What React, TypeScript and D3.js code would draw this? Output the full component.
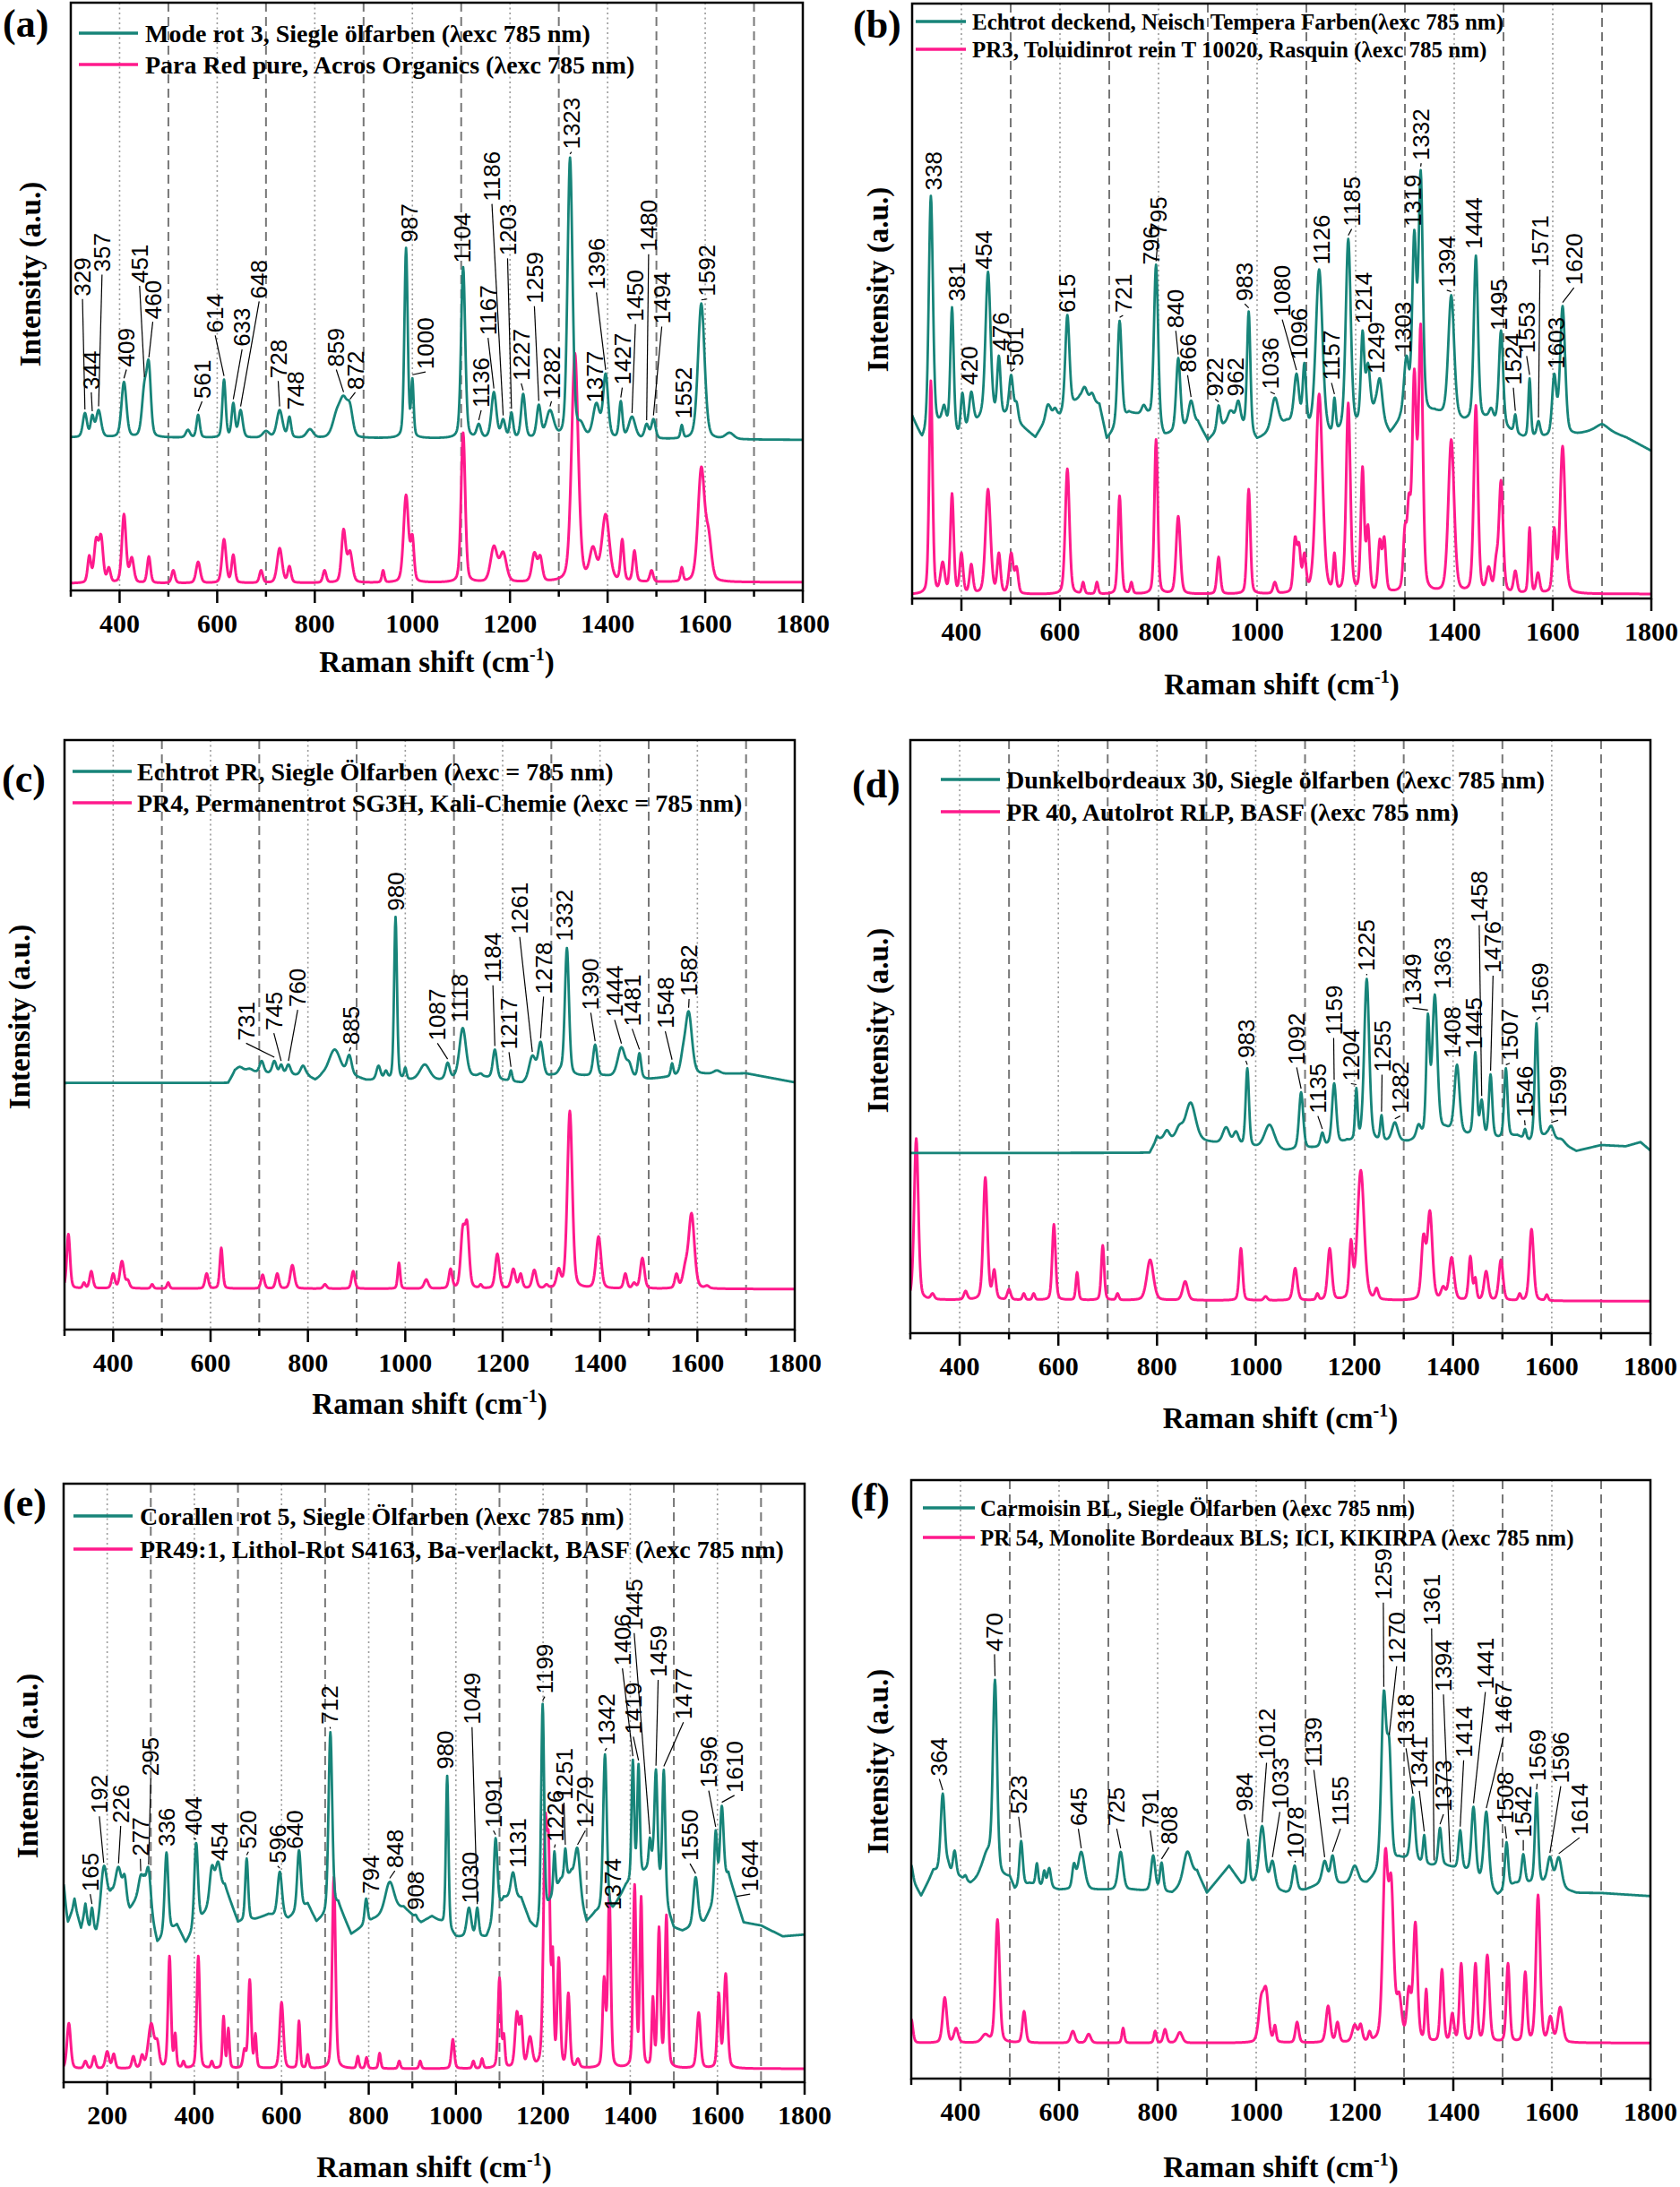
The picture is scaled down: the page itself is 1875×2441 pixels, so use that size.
import React, { useMemo } from "react";
import * as d3 from "d3";

type Pt = [number, number];
type Pk = [number, number, number]; // centre (cm-1), top intensity, half width
type Lb = [number, number, number]; // peak (cm-1), label x (cm-1), label bottom intensity

// ---------------- axis ticks ----------------
const X_MAJOR = [400, 600, 800, 1000, 1200, 1400, 1600, 1800];
const X_MINOR = [300, 500, 700, 900, 1100, 1300, 1500, 1700];
const X_MAJOR_E = [200, 400, 600, 800, 1000, 1200, 1400, 1600, 1800];
const X_MINOR_E = [100, 300, 500, 700, 900, 1100, 1300, 1500, 1700];

// ---------------- panel (a) ----------------
const A_LEGEND = ["Mode rot 3, Siegle ölfarben (λexc 785 nm)", "Para Red pure, Acros Organics (λexc 785 nm)"];
const A_TEAL_BASE: Pt[] = [[300, 27.2], [1800, 26.8]];
const A_TEAL_PEAKS: Pk[] = [
  [329, 31.3, 5], [344, 31.0, 4], [357, 31.8, 6], [409, 36.5, 6], [451, 36.7, 6], [460, 40.0, 5],
  [540, 28.5, 5], [561, 31.0, 4], [614, 36.9, 4], [633, 33.0, 4], [648, 31.8, 5], [700, 28.3, 8],
  [728, 31.8, 7], [748, 30.7, 4], [790, 28.6, 8], [845, 32, 10], [859, 34.2, 9], [872, 33.0, 7],
  [987, 58.9, 4], [1000, 37.1, 3], [1104, 55.7, 5], [1136, 29.5, 5], [1167, 34.8, 6], [1186, 30.3, 5],
  [1203, 31.4, 4], [1227, 34.5, 5], [1259, 32.7, 5], [1282, 31.8, 9], [1323, 74.0, 6], [1345, 30, 8],
  [1377, 33.0, 8], [1396, 37.9, 6], [1427, 33.3, 4], [1450, 30.7, 8], [1480, 29.5, 5], [1494, 30.3, 5],
  [1552, 29.3, 3], [1592, 49.6, 8], [1650, 28, 10],
];
const A_PINK_BASE: Pt[] = [[300, 2.8], [1800, 3.0]];
const A_PINK_PEAKS: Pk[] = [
  [338, 7.5, 4], [352, 10.5, 5], [362, 11, 5], [378, 5.5, 4], [409, 14.4, 5], [425, 7.2, 5], [460, 7.3, 4],
  [510, 5, 4], [561, 6.4, 5], [614, 10.2, 5], [633, 7.6, 4], [690, 5, 4], [728, 8.7, 6], [748, 5.7, 4],
  [820, 5, 4], [859, 11.9, 5], [872, 8.3, 6], [940, 5, 3], [987, 17.6, 6], [1000, 11, 4], [1104, 28, 5],
  [1167, 9.1, 8], [1186, 8.1, 8], [1250, 8, 6], [1262, 7.5, 5], [1333, 41.3, 8], [1370, 9, 8],
  [1396, 14.4, 9], [1430, 10.2, 4], [1455, 8.3, 4], [1490, 5, 4], [1552, 5.5, 3], [1592, 22.3, 8], [1607, 12, 7],
];
const A_LABELS: Lb[] = [
  [329, 324, 50.8], [344, 342, 35.2], [357, 364, 54.9], [409, 414, 39.0], [451, 441, 53.0], [460, 468, 47.0],
  [561, 569, 33.7], [614, 596, 44.7], [633, 651, 42.4], [648, 686, 50.4], [728, 725, 37.1], [748, 760, 31.8],
  [859, 844, 39.0], [872, 883, 35.2], [987, 994, 59.8], [1000, 1027, 38.6], [1104, 1103, 56.4], [1136, 1141, 32.2],
  [1167, 1155, 44.3], [1186, 1163, 66.7], [1203, 1195, 57.6], [1227, 1223, 36.7], [1259, 1250, 49.6],
  [1282, 1285, 33.7], [1323, 1326, 75.4], [1377, 1373, 33.0], [1396, 1377, 51.9], [1427, 1430, 36.0],
  [1450, 1457, 46.6], [1480, 1484, 58.3], [1494, 1511, 46.2], [1552, 1555, 30.3], [1592, 1604, 50.8],
];

// ---------------- panel (b) ----------------
const B_LEGEND = ["Echtrot deckend, Neisch Tempera Farben(λexc 785 nm)", "PR3, Toluidinrot rein T 10020, Rasquin (λexc 785 nm)"];
const B_TEAL_BASE: Pt[] = [
  [300, 31], [320, 27], [360, 30], [395, 27.5], [440, 30.5], [490, 31], [520, 29.5], [550, 27.5], [580, 31.5],
  [600, 31], [640, 34], [680, 33], [695, 27.2], [740, 31.5], [780, 31], [812, 27.5], [880, 30], [900, 27],
  [950, 31], [1000, 27], [1060, 30], [1150, 27.5], [1200, 29], [1240, 32], [1270, 28], [1290, 30], [1360, 31.5],
  [1420, 30], [1465, 30.5], [1540, 27.5], [1590, 27.5], [1650, 28], [1700, 29], [1750, 27.5], [1800, 25.3],
];
const B_TEAL_PEAKS: Pk[] = [
  [338, 67.9, 5], [365, 33, 4], [381, 49.3, 4], [402, 35, 4], [420, 35.2, 5], [454, 55.2, 6], [476, 41.2, 4],
  [501, 38, 5], [512, 33.5, 4], [575, 33, 5], [590, 32.5, 4], [615, 48, 5], [650, 36, 6], [665, 35, 5],
  [721, 47, 5], [770, 33, 5], [795, 56.4, 5], [840, 40.8, 5], [866, 33.7, 6], [922, 32.9, 4], [945, 32, 5],
  [962, 33.7, 5], [983, 48.6, 4], [1036, 34.2, 8], [1080, 38.2, 6], [1096, 40, 4], [1126, 55.6, 8],
  [1157, 34.2, 3], [1185, 60.7, 6], [1214, 45.4, 4], [1225, 40, 5], [1249, 37.4, 6], [1303, 41.2, 6],
  [1319, 62.2, 5], [1332, 72.2, 5], [1394, 51.3, 7], [1444, 57.9, 5], [1475, 32.5, 5], [1495, 45.4, 5],
  [1524, 31.4, 3], [1553, 37.4, 3], [1571, 30.3, 4], [1603, 38.2, 5], [1620, 49.5, 6], [1700, 29.8, 15],
];
const B_PINK_BASE: Pt[] = [[300, 1.3], [1800, 1.4]];
const B_PINK_PEAKS: Pk[] = [
  [338, 37, 4], [362, 6.8, 5], [381, 18.2, 4], [400, 8.3, 4], [420, 6.4, 4], [454, 18.9, 6], [476, 8.3, 4],
  [501, 8.3, 5], [512, 6, 4], [615, 22.3, 5], [647, 3.4, 3], [675, 3.4, 3], [721, 17.8, 4], [745, 3.4, 3],
  [795, 27.2, 4], [840, 14.4, 5], [922, 7.6, 4], [983, 18.9, 4], [1036, 3.4, 4], [1077, 11, 4], [1085, 10, 4],
  [1096, 8.3, 4], [1126, 34.8, 8], [1157, 8.3, 3], [1185, 33.3, 5], [1214, 22.7, 4], [1225, 13, 4],
  [1249, 10.6, 4], [1258, 11, 4], [1300, 13, 4], [1308, 18.2, 4], [1319, 39, 5], [1332, 46.5, 5],
  [1394, 27.2, 7], [1444, 32.9, 5], [1470, 6, 5], [1485, 8, 4], [1495, 20.4, 5], [1524, 5.3, 4],
  [1553, 12.5, 3], [1570, 5, 4], [1603, 12.5, 4], [1620, 26.1, 6],
];
const B_LABELS: Lb[] = [
  [338, 343, 68.8], [381, 390, 50.3], [420, 416, 36.3], [454, 446, 55.6], [476, 479, 42.0], [501, 508, 39.5],
  [615, 615, 48.4], [721, 728, 48.4], [796, 786, 56.4], [795, 799, 61.3], [840, 835, 45.8], [866, 859, 38.4],
  [922, 915, 34.4], [962, 956, 34.4], [983, 975, 50.3], [1036, 1027, 35.6], [1080, 1051, 47.7], [1096, 1086, 40.5],
  [1126, 1130, 56.4], [1157, 1151, 37.1], [1185, 1192, 62.8], [1214, 1216, 46.5], [1249, 1241, 38.2],
  [1303, 1296, 41.6], [1319, 1317, 62.8], [1332, 1333, 73.8], [1394, 1385, 52.6], [1444, 1439, 59.0],
  [1495, 1491, 45.4], [1524, 1520, 36.3], [1553, 1547, 41.6], [1571, 1574, 56.0], [1603, 1607, 39.0], [1620, 1643, 53.0],
];

// ---------------- panel (c) ----------------
const C_LEGEND = ["Echtrot PR, Siegle Ölfarben (λexc = 785 nm)", "PR4, Permanentrot SG3H, Kali-Chemie (λexc = 785 nm)"];
const C_TEAL_BASE: Pt[] = [
  [300, 41.9], [636, 41.9], [650, 43.8], [700, 43.6], [800, 43], [815, 42.3], [830, 43], [900, 42.8], [920, 42.3],
  [1070, 42.3], [1150, 43], [1240, 41.8], [1300, 43], [1410, 43], [1500, 42.5], [1600, 43.3], [1700, 43.5], [1800, 42],
];
const C_TEAL_PEAKS: Pk[] = [
  [660, 44.6, 8], [680, 44.3, 8], [705, 45.6, 5], [731, 45.6, 5], [745, 45, 4], [760, 45, 5], [790, 44.8, 6],
  [855, 47.5, 14], [885, 46.6, 6], [945, 44.8, 5], [960, 44, 4], [980, 69.7, 3.5], [1000, 44.5, 3], [1040, 45, 12],
  [1087, 45.3, 5], [1118, 51.1, 8], [1155, 43.5, 4], [1184, 47.5, 5], [1217, 44, 3], [1261, 46.5, 8], [1278, 48.8, 6],
  [1318, 44.5, 5], [1332, 64.5, 5], [1390, 48.3, 5], [1444, 47.9, 9], [1460, 45.5, 6], [1481, 46.9, 4],
  [1548, 45.2, 3], [1570, 48, 6], [1582, 53.9, 8], [1640, 44, 8],
];
const C_PINK_BASE: Pt[] = [[300, 7.5], [1800, 7.4]];
const C_PINK_PEAKS: Pk[] = [
  [308, 16.6, 4], [340, 8.5, 3], [355, 10.4, 4], [400, 10, 4], [418, 12.1, 5], [430, 9, 4], [480, 8.2, 3],
  [513, 8.5, 3], [592, 10, 4], [622, 14.3, 3.5], [707, 9.8, 4], [737, 10, 4], [768, 11.4, 5], [835, 8.2, 4],
  [893, 10.4, 4], [987, 11.8, 3], [1043, 9, 5], [1093, 10.8, 4], [1118, 18, 5], [1127, 18.8, 5], [1155, 8.2, 3],
  [1189, 13.3, 5], [1222, 10.8, 5], [1237, 10, 4], [1265, 10.6, 5], [1290, 8.2, 4], [1315, 10.9, 5],
  [1338, 37.2, 6], [1397, 16.2, 6], [1452, 10, 4], [1470, 8.5, 4], [1487, 12.6, 5], [1557, 10, 4],
  [1575, 12, 6], [1588, 20.1, 7], [1620, 8, 5],
];
const C_LABELS: Lb[] = [
  [731, 673, 49.0], [745, 730, 50.7], [760, 779, 54.6], [885, 888, 48.3], [980, 981, 70.7], [1087, 1066, 49.0],
  [1118, 1112, 52.1], [1184, 1180, 58.7], [1217, 1213, 47.5], [1261, 1235, 66.8], [1278, 1284, 56.8],
  [1332, 1327, 65.6], [1390, 1381, 54.1], [1444, 1430, 52.9], [1481, 1466, 51.4], [1548, 1534, 51.0], [1582, 1583, 56.4],
];

// ---------------- panel (d) ----------------
const D_LEGEND = ["Dunkelbordeaux 30, Siegle ölfarben (λexc 785 nm)", "PR 40, Autolrot RLP, BASF (λexc 785 nm)"];
const D_TEAL_BASE: Pt[] = [
  [300, 31.2], [785, 31.2], [800, 33.5], [900, 33], [1000, 32], [1060, 31.5], [1120, 32], [1185, 33], [1240, 33],
  [1310, 33], [1385, 35], [1428, 34], [1492, 33.5], [1530, 34], [1555, 33], [1590, 34], [1650, 31.5], [1700, 32.5],
  [1750, 32.3], [1780, 33], [1800, 31.6],
];
const D_TEAL_PEAKS: Pk[] = [
  [800, 34, 3], [820, 35, 6], [845, 35.9, 8], [868, 39.6, 12], [940, 35.5, 8], [960, 34.8, 6], [983, 45.3, 4],
  [1028, 35.9, 12], [1092, 41.3, 5], [1135, 34.6, 4], [1159, 42.8, 5], [1185, 33.5, 3], [1204, 42, 3],
  [1225, 60.2, 6], [1255, 37.5, 3], [1282, 36.3, 7], [1330, 36, 5], [1349, 54.4, 4], [1363, 57.6, 6],
  [1408, 45.9, 6], [1445, 48, 4], [1458, 40.1, 4], [1476, 44.3, 4], [1507, 45.3, 4], [1546, 35.2, 3],
  [1569, 52.8, 4], [1599, 35.7, 6], [1620, 33.5, 8],
];
const D_PINK_BASE: Pt[] = [[300, 6.7], [1800, 6.5]];
const D_PINK_PEAKS: Pk[] = [
  [312, 33.6, 5], [345, 7.8, 4], [412, 8.2, 4], [452, 27.1, 5], [470, 11.8, 4], [500, 8.5, 4], [530, 7.8, 3],
  [550, 7.8, 3], [591, 19.3, 4], [638, 11.3, 3], [690, 15.8, 3.5], [720, 7.8, 3], [786, 13.4, 8], [857, 9.8, 6],
  [970, 15.3, 4], [1020, 7.3, 4], [1080, 12, 5], [1125, 7.8, 3], [1150, 15.3, 5], [1193, 16.8, 4],
  [1213, 28.3, 8], [1245, 8.7, 4], [1340, 17.7, 5], [1353, 21.6, 6], [1380, 9, 5], [1397, 13.8, 6],
  [1435, 14, 4], [1445, 10.5, 3], [1467, 11.5, 5], [1497, 13.4, 5], [1535, 7.8, 3], [1559, 18.5, 5], [1590, 7.6, 3],
];
const D_LABELS: Lb[] = [
  [983, 980, 47.0], [1092, 1083, 45.9], [1135, 1126, 37.8], [1159, 1158, 50.8], [1204, 1193, 43.2],
  [1225, 1225, 61.5], [1255, 1256, 44.7], [1282, 1293, 37.8], [1349, 1318, 55.8], [1363, 1378, 58.5],
  [1408, 1399, 47.0], [1445, 1442, 48.5], [1458, 1453, 69.6], [1476, 1481, 61.2], [1507, 1515, 46.6],
  [1546, 1545, 37.1], [1569, 1577, 54.3], [1599, 1613, 37.1],
];

// ---------------- panel (e) ----------------
const E_LEGEND = ["Corallen rot 5, Siegle Ölfarben (λexc 785 nm)", "PR49:1, Lithol-Rot S4163, Ba-verlackt, BASF (λexc 785 nm)"];
const E_TEAL_BASE: Pt[] = [
  [100, 31], [110, 27], [125, 30], [140, 26], [150, 29], [160, 25], [175, 25], [210, 31.5], [252, 29], [285, 33],
  [315, 23.5], [360, 26.5], [380, 23.5], [420, 28], [470, 33], [500, 27], [540, 27.5], [570, 28.3], [615, 27.5],
  [660, 30], [680, 27], [700, 28], [730, 30], [760, 25], [810, 27.5], [880, 29.5], [920, 27], [945, 28],
  [965, 27], [1000, 24.5], [1070, 24.5], [1110, 31], [1150, 31], [1170, 27], [1185, 25.5], [1240, 34],
  [1265, 35], [1300, 27], [1320, 28.5], [1360, 29], [1390, 33], [1430, 35], [1452, 37], [1490, 28], [1500, 26],
  [1520, 25.5], [1570, 27], [1625, 35], [1660, 27], [1700, 26.5], [1750, 24.7], [1800, 25],
];
const E_TEAL_PEAKS: Pk[] = [
  [100, 33.4, 4], [125, 31, 3], [150, 30.2, 3], [165, 29.5, 4], [192, 36.4, 8], [226, 36.3, 8], [240, 35, 5],
  [277, 35, 6], [295, 36.1, 6], [336, 38.7, 5], [404, 40.3, 5], [440, 36.5, 6], [454, 37.2, 7], [520, 37.7, 4],
  [596, 35.5, 6], [640, 39.1, 5], [712, 58.8, 5], [794, 31, 4], [848, 33.8, 12], [908, 28.3, 3], [945, 27.9, 4],
  [980, 51.5, 3.5], [1030, 29.5, 6], [1049, 29.5, 4], [1091, 41.1, 5], [1131, 35.4, 6], [1199, 63.5, 4],
  [1226, 38.9, 3], [1251, 39.4, 3], [1279, 39.4, 7], [1342, 55.1, 5], [1374, 27.9, 4], [1406, 54.2, 3.5],
  [1419, 53.5, 3.5], [1445, 41.2, 3], [1459, 52.6, 4], [1477, 52.5, 4], [1550, 34.6, 6], [1596, 42.4, 4],
  [1610, 46.5, 5], [1644, 29.8, 4],
];
const E_PINK_BASE: Pt[] = [[100, 2.6], [1800, 2.6]];
const E_PINK_PEAKS: Pk[] = [
  [112, 10.2, 5], [150, 3.9, 4], [170, 4.7, 4], [200, 5.5, 5], [215, 5.1, 4], [260, 4.7, 4], [280, 5, 4],
  [301, 10.2, 8], [315, 7.5, 5], [343, 21.4, 4], [356, 8.6, 3], [375, 3.9, 3], [409, 21.4, 4], [440, 3.9, 3],
  [467, 11.4, 3], [478, 9.4, 3], [515, 6, 4], [527, 17.5, 4], [540, 8.5, 3], [600, 13.7, 5], [640, 10.6, 3],
  [660, 5, 3], [720, 34.6, 4.5], [775, 4.7, 3], [795, 4.5, 3], [825, 5.2, 3], [870, 3.9, 3], [918, 3.9, 3],
  [993, 7.5, 4], [1040, 3.9, 3], [1060, 4.3, 3], [1100, 17.8, 4], [1110, 8.5, 3], [1140, 12.2, 5],
  [1150, 11.4, 4], [1170, 8, 6], [1205, 44.9, 5], [1213, 41, 4], [1222, 23, 3], [1236, 21.2, 4], [1258, 15.3, 4],
  [1280, 4.3, 4], [1340, 18, 4], [1352, 31.8, 4], [1410, 33.4, 4], [1425, 31.4, 3.5], [1452, 14.7, 3],
  [1466, 26.3, 4], [1483, 28.3, 4], [1557, 12, 5], [1603, 15.3, 4], [1619, 18.5, 5],
];
const E_LABELS: Lb[] = [
  [165, 161, 32.2], [192, 182, 45.2], [226, 231, 43.6], [277, 276, 38.1], [295, 300, 51.5], [336, 337, 39.7],
  [404, 398, 41.6], [454, 457, 37.3], [520, 524, 39.3], [596, 591, 36.9], [640, 631, 39.3], [712, 711, 60.1],
  [794, 805, 31.8], [848, 860, 36.1], [908, 908, 29.1], [980, 976, 52.6], [1030, 1034, 30.2], [1049, 1037, 60.1],
  [1091, 1086, 42.8], [1131, 1141, 36.1], [1199, 1204, 65.2], [1226, 1228, 40.5], [1251, 1248, 47.5],
  [1279, 1297, 42.8], [1342, 1346, 56.6], [1374, 1360, 29.1], [1406, 1382, 69.9], [1419, 1407, 58.5],
  [1445, 1409, 75.8], [1459, 1464, 68.0], [1477, 1522, 60.9], [1550, 1537, 37.3], [1596, 1580, 49.5],
  [1610, 1639, 48.7], [1644, 1675, 32.2],
];

// ---------------- panel (f) ----------------
const F_LEGEND = ["Carmoisin BL, Siegle Ölfarben (λexc 785 nm)", "PR 54, Monolite Bordeaux BLS; ICI, KIKIRPA (λexc 785 nm)"];
const F_TEAL_BASE: Pt[] = [
  [300, 34], [320, 31], [345, 35], [400, 34], [420, 33], [440, 34], [500, 34], [510, 32], [540, 33], [600, 32],
  [690, 32], [750, 32], [830, 31.5], [880, 35], [900, 31.5], [945, 36], [970, 33], [995, 33], [1060, 31.5],
  [1100, 32], [1130, 33], [1170, 33], [1225, 33], [1240, 34], [1290, 37], [1305, 37], [1355, 36], [1385, 36],
  [1428, 35], [1490, 31], [1525, 33], [1555, 33], [1585, 33], [1650, 31.5], [1700, 31.5], [1800, 31],
];
const F_TEAL_PEAKS: Pk[] = [
  [300, 36.2, 4], [345, 35.5, 6], [364, 48.1, 5], [375, 37, 4], [388, 38.6, 4], [410, 34.5, 3], [455, 39, 12],
  [470, 67.1, 5], [523, 40.2, 4], [555, 36.5, 3], [570, 35.3, 3], [580, 35.7, 4], [630, 36.5, 4], [645, 38.4, 8],
  [725, 38.4, 6], [791, 37.8, 5], [808, 36.6, 4], [860, 38.4, 9], [945, 36, 8], [984, 40.4, 3], [1012, 42.7, 7],
  [1033, 36.9, 6], [1078, 36.1, 5], [1139, 36.9, 6], [1155, 37.8, 5], [1200, 36.1, 8], [1232, 34, 3],
  [1259, 65.3, 6], [1270, 57.3, 5], [1318, 47.5, 5], [1341, 41.2, 3], [1373, 42.4, 4], [1394, 34.5, 3],
  [1414, 42, 4], [1441, 45.9, 5], [1467, 45.1, 6], [1508, 40, 4], [1542, 38, 4], [1569, 48.2, 4],
  [1596, 37.6, 6], [1614, 37.5, 7],
];
const F_PINK_BASE: Pt[] = [[300, 6.5], [1800, 6.5]];
const F_PINK_PEAKS: Pk[] = [
  [300, 10.5, 4], [368, 14.1, 5], [391, 9, 5], [450, 8, 8], [475, 27.1, 5], [529, 11.8, 4], [628, 8.5, 5],
  [660, 8, 5], [730, 9, 3], [795, 8.5, 3], [815, 8.8, 4], [845, 8.3, 6], [1010, 14.5, 6], [1020, 15.8, 6],
  [1038, 9.5, 3], [1083, 10, 4], [1146, 12.7, 5], [1165, 10, 4], [1200, 9.6, 6], [1212, 9.7, 4], [1230, 8.5, 3],
  [1262, 38.8, 6], [1274, 34.5, 6], [1290, 15, 6], [1310, 16, 5], [1323, 26.7, 5], [1345, 15.5, 3],
  [1377, 18.8, 4], [1398, 11.5, 4], [1416, 19.8, 4], [1445, 19.8, 4], [1469, 21.2, 5], [1511, 19.8, 4],
  [1546, 18.4, 4], [1572, 31.2, 5], [1597, 11, 5], [1617, 12.5, 6],
];
const F_LABELS: Lb[] = [
  [364, 357, 51.0], [470, 469, 71.8], [523, 518, 44.7], [645, 639, 42.7], [725, 717, 42.7], [791, 785, 42.4],
  [808, 823, 39.6], [984, 976, 45.1], [1012, 1021, 53.7], [1033, 1048, 45.5], [1078, 1080, 37.3],
  [1139, 1117, 52.5], [1155, 1171, 42.7], [1259, 1258, 80.4], [1270, 1285, 69.8], [1318, 1304, 56.1],
  [1341, 1331, 49.0], [1361, 1356, 76.1], [1373, 1380, 45.1], [1394, 1380, 65.1], [1414, 1421, 54.1],
  [1441, 1465, 65.5], [1467, 1502, 58.0], [1508, 1505, 43.1], [1542, 1542, 40.8], [1569, 1570, 50.2],
  [1596, 1618, 49.8], [1614, 1656, 41.2],
];

// ---------------- styling / layout ----------------
const TEAL = "#178479";
const PINK = "#ff1a8c";
const SERIF = "'Liberation Serif', 'Times New Roman', serif";
const SANS = "'Liberation Sans', Arial, sans-serif";

const PANELS = [
  { id: "a", name: "(a)", fx: [79, 896], fy: [3, 659], xdom: [300, 1800], ydom: [1.63, 99.9], lab: [3, 41],
    legY: [37, 72], legX: [88, 154, 162], legFs: 28, yLab: [45, 306], tickY: 706, titleY: 750,
    major: X_MAJOR, minor: X_MINOR, legend: A_LEGEND,
    tealBase: A_TEAL_BASE, tealPeaks: A_TEAL_PEAKS, pinkBase: A_PINK_BASE, pinkPeaks: A_PINK_PEAKS, labels: A_LABELS },
  { id: "b", name: "(b)", fx: [1018, 1843], fy: [4, 668], xdom: [300, 1800], ydom: [0.66, 100], lab: [952, 42],
    legY: [24, 55], legX: [1022, 1078, 1085], legFs: 25, yLab: [991, 312], tickY: 715, titleY: 775,
    major: X_MAJOR, minor: X_MINOR, legend: B_LEGEND,
    tealBase: B_TEAL_BASE, tealPeaks: B_TEAL_PEAKS, pinkBase: B_PINK_BASE, pinkPeaks: B_PINK_PEAKS, labels: B_LABELS },
  { id: "c", name: "(c)", fx: [72, 887], fy: [826, 1484], xdom: [300, 1800], ydom: [0.62, 99.3], lab: [2, 884],
    legY: [861, 896], legX: [81, 147, 153], legFs: 28, yLab: [33, 1135], tickY: 1531, titleY: 1578,
    major: X_MAJOR, minor: X_MINOR, legend: C_LEGEND,
    tealBase: C_TEAL_BASE, tealPeaks: C_TEAL_PEAKS, pinkBase: C_PINK_BASE, pinkPeaks: C_PINK_PEAKS, labels: C_LABELS },
  { id: "d", name: "(d)", fx: [1016, 1842], fy: [826, 1488], xdom: [300, 1800], ydom: [1.17, 100], lab: [951, 890],
    legY: [870, 906], legX: [1050, 1116, 1123], legFs: 28, yLab: [991, 1139], tickY: 1535, titleY: 1594,
    major: X_MAJOR, minor: X_MINOR, legend: D_LEGEND,
    tealBase: D_TEAL_BASE, tealPeaks: D_TEAL_PEAKS, pinkBase: D_PINK_BASE, pinkPeaks: D_PINK_PEAKS, labels: D_LABELS },
  { id: "e", name: "(e)", fx: [71, 898], fy: [1656, 2324], xdom: [100, 1800], ydom: [0.36, 100.3], lab: [3, 1692],
    legY: [1692, 1729], legX: [82, 148, 156], legFs: 28, yLab: [42, 1971], tickY: 2371, titleY: 2430,
    major: X_MAJOR_E, minor: X_MINOR_E, legend: E_LEGEND,
    tealBase: E_TEAL_BASE, tealPeaks: E_TEAL_PEAKS, pinkBase: E_PINK_BASE, pinkPeaks: E_PINK_PEAKS, labels: E_LABELS },
  { id: "f", name: "(f)", fx: [1017, 1842], fy: [1652, 2320], xdom: [300, 1800], ydom: [0.57, 100.4], lab: [949, 1686],
    legY: [1683, 1716], legX: [1030, 1088, 1094], legFs: 25, yLab: [991, 1966], tickY: 2367, titleY: 2430,
    major: X_MAJOR, minor: X_MINOR, legend: F_LEGEND,
    tealBase: F_TEAL_BASE, tealPeaks: F_TEAL_PEAKS, pinkBase: F_PINK_BASE, pinkPeaks: F_PINK_PEAKS, labels: F_LABELS },
];

// ---------------- spectrum model ----------------
function kernel(x: number, c: number, w: number) {
  const t = (x - c) / w;
  return 0.3 / (1 + t * t) + 0.7 * Math.exp(-0.6931 * t * t);
}

function makeSpectrum(base: Pt[], peaks: Pk[], x0: number, x1: number) {
  const baseAt = d3.scaleLinear().domain(base.map((d) => d[0])).range(base.map((d) => d[1])).clamp(true);
  const n = peaks.length;
  const h = peaks.map((p) => Math.max(0, p[1] - baseAt(p[0])));
  for (let it = 0; it < 60; it++) {
    for (let i = 0; i < n; i++) {
      let cur = baseAt(peaks[i][0]);
      for (let j = 0; j < n; j++) cur += h[j] * kernel(peaks[i][0], peaks[j][0], peaks[j][2]);
      h[i] = Math.max(0, h[i] + 0.7 * (peaks[i][1] - cur));
    }
  }
  const f = (x: number) => {
    let v = baseAt(x);
    for (let j = 0; j < n; j++) v += h[j] * kernel(x, peaks[j][0], peaks[j][2]);
    return v;
  };
  const pts: Pt[] = d3.range(x0, x1 + 0.001, 1).map((x) => [x, f(x)] as Pt);
  return { pts, f };
}

function Panel({ p }: { p: any }) {
  const x = d3.scaleLinear().domain(p.xdom).range(p.fx);
  const y = d3.scaleLinear().domain(p.ydom).range([p.fy[1], p.fy[0]]);
  const teal = useMemo(() => makeSpectrum(p.tealBase, p.tealPeaks, p.xdom[0], p.xdom[1]), [p]);
  const pink = useMemo(() => makeSpectrum(p.pinkBase, p.pinkPeaks, p.xdom[0], p.xdom[1]), [p]);
  const line = d3.line<Pt>().x((d) => x(d[0])).y((d) => y(d[1]));
  const [x0, x1] = p.fx;
  const [y0, y1] = p.fy;
  const cx = (x0 + x1) / 2;
  const clipId = "clip-" + p.id;
  return (
    <g>
      <defs>
        <clipPath id={clipId}>
          <rect x={x0} y={y0} width={x1 - x0} height={y1 - y0} />
        </clipPath>
      </defs>
      {/* grid */}
      {p.major.filter((t: number) => t < p.xdom[1]).map((t: number) => (
        <line key={"g" + t} x1={x(t)} x2={x(t)} y1={y0} y2={y1} stroke="#9a9a9a" strokeWidth={1.6} strokeDasharray="2,3.5" />
      ))}
      {p.minor.filter((t: number) => t > p.xdom[0]).map((t: number) => (
        <line key={"m" + t} x1={x(t)} x2={x(t)} y1={y0} y2={y1} stroke="#777" strokeWidth={2} strokeDasharray="10,6" />
      ))}
      {/* spectra */}
      <g clipPath={`url(#${clipId})`}>
        <path d={line(pink.pts) || ""} fill="none" stroke={PINK} strokeWidth={3} strokeLinejoin="round" />
        <path d={line(teal.pts) || ""} fill="none" stroke={TEAL} strokeWidth={2.8} strokeLinejoin="round" />
      </g>
      {/* frame */}
      <rect x={x0} y={y0} width={x1 - x0} height={y1 - y0} fill="none" stroke="#000" strokeWidth={2.5} />
      {/* ticks */}
      {p.major.map((t: number) => (
        <line key={"t" + t} x1={x(t)} x2={x(t)} y1={y1} y2={y1 + 14} stroke="#000" strokeWidth={2.5} />
      ))}
      {p.minor.map((t: number) => (
        <line key={"n" + t} x1={x(t)} x2={x(t)} y1={y1} y2={y1 + 7} stroke="#000" strokeWidth={2.5} />
      ))}
      {p.major.map((t: number) => (
        <text key={"l" + t} x={x(t)} y={p.tickY} textAnchor="middle" fontFamily={SERIF} fontWeight="bold" fontSize={30}>
          {t}
        </text>
      ))}
      {/* axis titles */}
      <text x={cx} y={p.titleY} textAnchor="middle" fontFamily={SERIF} fontWeight="bold" fontSize={33}>
        Raman shift (cm
        <tspan dy={-13} fontSize={20}>-1</tspan>
        <tspan dy={13}>)</tspan>
      </text>
      <text transform={`translate(${p.yLab[0]},${p.yLab[1]}) rotate(-90)`} textAnchor="middle" fontFamily={SERIF} fontWeight="bold" fontSize={33}>
        Intensity (a.u.)
      </text>
      {/* panel letter */}
      <text x={p.lab[0]} y={p.lab[1]} fontFamily={SERIF} fontWeight="bold" fontSize={44}>
        {p.name}
      </text>
      {/* legend */}
      {[TEAL, PINK].map((c, i) => (
        <g key={"lg" + i}>
          <line x1={p.legX[0]} x2={p.legX[1]} y1={p.legY[i]} y2={p.legY[i]} stroke={c} strokeWidth={3.5} />
          <text x={p.legX[2]} y={p.legY[i]} dy="0.35em" fontFamily={SERIF} fontWeight="bold" fontSize={p.legFs}>
            {p.legend[i]}
          </text>
        </g>
      ))}
      {/* peak labels */}
      {p.labels.map((l: Lb, i: number) => {
        const px = x(l[0]);
        const py = y(teal.f(l[0])) - 4;
        const tx = x(l[1]);
        const ty = y(l[2]);
        const ly = ty + 3;
        return (
          <g key={"pl" + i}>
            {py - ly > 1 && <line x1={px} y1={py} x2={tx} y2={ly} stroke="#000" strokeWidth={1.2} />}
            <text transform={`translate(${tx},${ty}) rotate(-90)`} dy="0.35em" fontFamily={SANS} fontSize={26}>
              {l[0]}
            </text>
          </g>
        );
      })}
    </g>
  );
}

export default function App() {
  return (
    <svg width={1875} height={2441} style={{ position: "absolute", left: 0, top: 0, background: "#fff" }}>
      <rect x={0} y={0} width={1875} height={2441} fill="#fff" />
      {PANELS.map((p) => (
        <Panel key={p.id} p={p} />
      ))}
    </svg>
  );
}
